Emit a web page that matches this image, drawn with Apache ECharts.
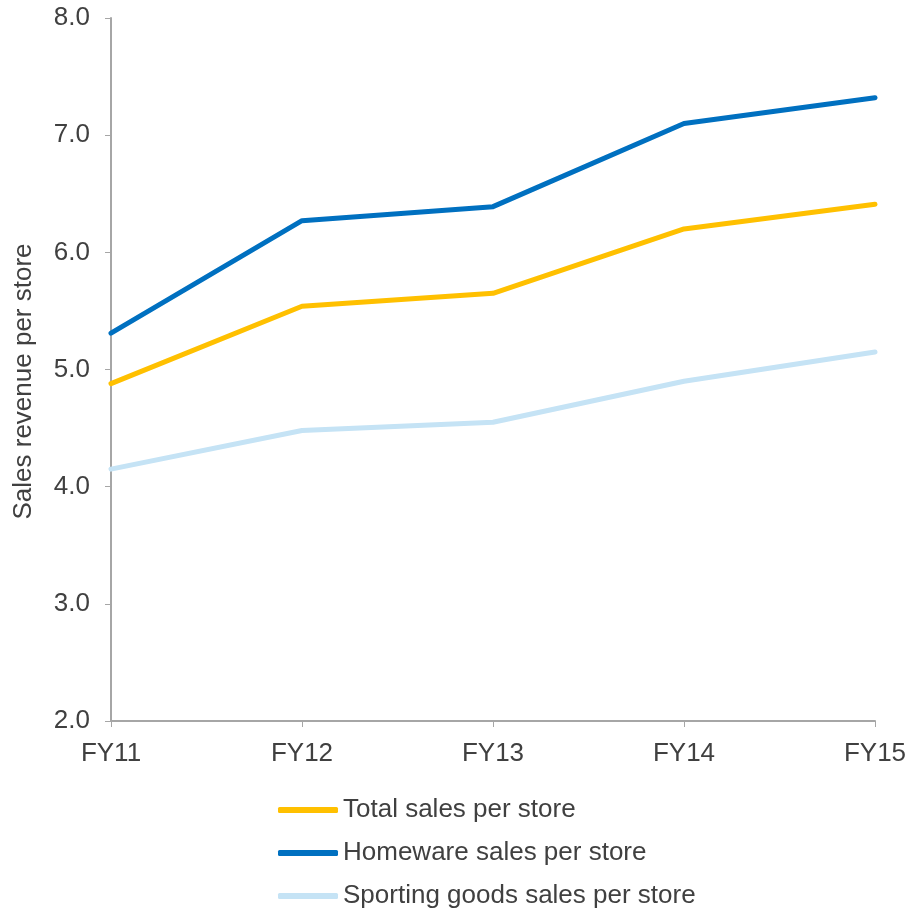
<!DOCTYPE html>
<html>
<head>
<meta charset="utf-8">
<script src="https://cdn.jsdelivr.net/npm/echarts@6/dist/echarts.min.js"></script>
<style>
  html, body { margin: 0; padding: 0; background: #ffffff; }
  #chart { width: 910px; height: 909px; }
</style>
</head>
<body>
<div id="chart"></div>
<script>
// Fiscal years on the category axis
const years = ['FY11', 'FY12', 'FY13', 'FY14', 'FY15'];

// Sales revenue per store, by segment
const totalSales = [4.88, 5.54, 5.65, 6.20, 6.41];
const homewareSales = [5.31, 6.27, 6.39, 7.10, 7.32];
const sportingSales = [4.15, 4.48, 4.55, 4.90, 5.15];

const seriesNames = [
  'Total sales per store',
  'Homeware sales per store',
  'Sporting goods sales per store'
];
const seriesColors = ['#ffc000', '#0070c0', '#c5e3f5'];

const font = 'Liberation Sans, Arial, sans-serif';
const axisGray = '#a6a6a6';
const textColor = '#404040';

function lineSeries(name, data, color) {
  return {
    name: name,
    type: 'line',
    data: data,
    symbol: 'none',
    smooth: false,
    lineStyle: { color: color, width: 5, cap: 'round', join: 'round' },
    itemStyle: { color: color },
    emphasis: { disabled: true }
  };
}

const chart = echarts.init(document.getElementById('chart'), null, { renderer: 'canvas' });

chart.setOption({
  animation: false,
  backgroundColor: '#ffffff',
  grid: { left: 111, right: 35, top: 18, bottom: 188, containLabel: false },
  xAxis: {
    type: 'category',
    data: years,
    boundaryGap: false,
    axisLine: { lineStyle: { color: axisGray, width: 2 } },
    axisTick: { show: true, alignWithLabel: true, length: 6, lineStyle: { color: axisGray, width: 1 } },
    axisLabel: { color: textColor, fontSize: 26, fontFamily: font, margin: 20 },
    splitLine: { show: false }
  },
  yAxis: {
    type: 'value',
    min: 2,
    max: 8,
    interval: 1,
    name: 'Sales revenue per store',
    nameLocation: 'middle',
    nameGap: 74,
    nameRotate: 90,
    nameTextStyle: {
      color: textColor, fontSize: 26, fontFamily: font,
      padding: [0, 24, 0, 0]
    },
    axisLine: { show: true, lineStyle: { color: axisGray, width: 2 } },
    axisTick: { show: true, length: 6, lineStyle: { color: axisGray, width: 1 } },
    axisLabel: {
      color: textColor, fontSize: 26, fontFamily: font, margin: 21,
      formatter: v => v.toFixed(1)
    },
    splitLine: { show: false }
  },
  legend: {
    orient: 'vertical',
    left: 273,
    top: 792,
    height: 117,
    itemWidth: 60,
    itemHeight: 6,
    itemGap: 17,
    icon: 'roundRect',
    textStyle: { color: textColor, fontSize: 26, fontFamily: font, lineHeight: 26 },
    data: seriesNames
  },
  series: [
    lineSeries(seriesNames[0], totalSales, seriesColors[0]),
    lineSeries(seriesNames[1], homewareSales, seriesColors[1]),
    lineSeries(seriesNames[2], sportingSales, seriesColors[2])
  ]
});
</script>
</body>
</html>
